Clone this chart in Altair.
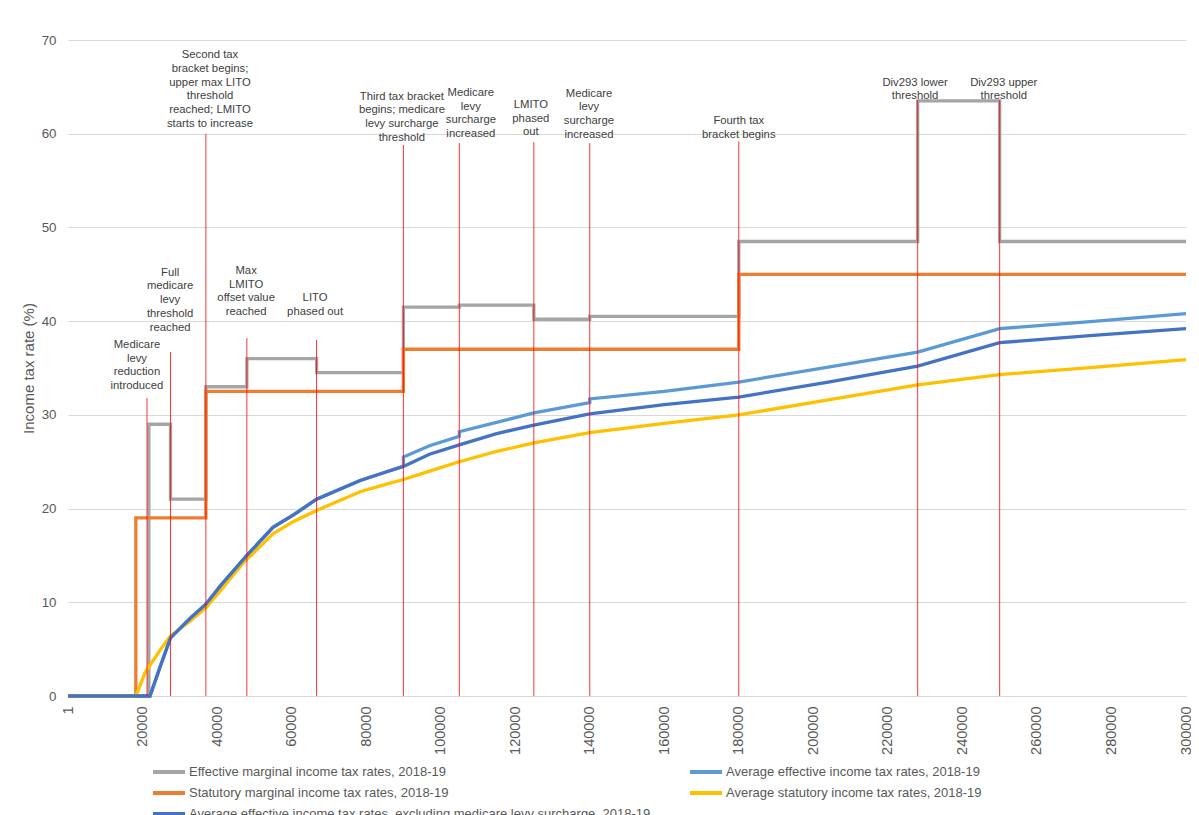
import altair as alt
import pandas as pd

FONT = "Liberation Sans"

# ---------------- data ----------------
x_ticks = [0, 20000, 40000, 60000, 80000, 100000, 120000, 140000, 160000,
           180000, 200000, 220000, 240000, 260000, 280000, 300000]
y_ticks = [0, 10, 20, 30, 40, 50, 60, 70]

EMTR = "Effective marginal income tax rates, 2018-19"
AETR = "Average effective income tax rates, 2018-19"
SMTR = "Statutory marginal income tax rates, 2018-19"
ASTR = "Average statutory income tax rates, 2018-19"
AETRX = "Average effective income tax rates, excluding medicare levy surcharge, 2018-19"

# legend order (filled column by column: left column, then right column)
legend_order = [EMTR, SMTR, AETRX, AETR, ASTR]
legend_colors = ["#A5A5A5", "#ED7D31", "#4472C4", "#5B9BD5", "#FFC000"]

# Effective marginal income tax rates (step)
emtr_income = [0, 21700, 27500, 37000, 48000, 66700, 90000, 105000, 125000,
               140000, 180000, 228000, 250000, 300000]
emtr_rate = [0, 29, 21, 33, 36, 34.5, 41.5, 41.7, 40.2, 40.5, 48.5, 63.5, 48.5, 48.5]

# Statutory marginal income tax rates (step)
smtr_income = [0, 18200, 37000, 90000, 180000, 300000]
smtr_rate = [0, 19, 32.5, 37, 45, 45]

# Average effective income tax rates
aetr_income = [0, 22000, 24700, 27500, 32800, 37000, 41000, 48000, 55000, 60400,
               66700, 78400, 84500, 90000, 90000, 97000, 105000, 105000, 115000,
               125000, 140000, 140000, 160000, 180000, 204000, 228000, 250000,
               276000, 300000]
aetr_rate = [0, 0, 3.1, 6.2, 8.3, 9.8, 11.8, 15.0, 18.0, 19.3,
             21.0, 23.0, 23.8, 24.5, 25.5, 26.7, 27.7, 28.2, 29.2,
             30.2, 31.3, 31.7, 32.5, 33.5, 35.1, 36.7, 39.2,
             40.0, 40.8]

# Average statutory income tax rates
astr_income = [0, 18200, 20700, 24700, 27500, 32800, 37000, 41000, 47000, 55000,
               60400, 66700, 78400, 84500, 90000, 97000, 105000, 115000, 125000,
               140000, 160000, 180000, 204000, 228000, 250000, 276000, 300000]
astr_rate = [0, 0, 2.5, 4.9, 6.4, 8.0, 9.4, 11.3, 14.2, 17.3,
             18.6, 19.8, 21.8, 22.5, 23.1, 24.0, 25.0, 26.1, 27.0,
             28.1, 29.1, 30.0, 31.6, 33.2, 34.3, 35.1, 35.9]

# Average effective income tax rates, excluding medicare levy surcharge
aetrx_income = [0, 22000, 24700, 27500, 32800, 37000, 41000, 48000, 55000, 60400,
                66700, 78400, 84500, 90000, 97000, 105000, 115000, 125000, 140000,
                160000, 180000, 204000, 228000, 250000, 276000, 300000]
aetrx_rate = [0, 0, 3.1, 6.2, 8.3, 9.8, 11.8, 15.0, 18.0, 19.3,
              21.0, 23.0, 23.8, 24.5, 25.8, 26.8, 28.0, 28.9, 30.1,
              31.1, 31.9, 33.5, 35.2, 37.7, 38.5, 39.2]

# Threshold annotations
ann_income = [21200, 27500, 37000, 48000, 66700, 90000, 105000, 125000,
              140000, 180000, 228000, 250000]
ann_top = [31.8, 36.7, 60.0, 38.2, 38.0, 58.8, 59.0, 59.1, 59.0, 59.2, 63.6, 63.6]
ann_label_income = [18500, 27400, 38100, 47800, 66300, 89600, 108100, 124200,
                    139800, 180000, 227300, 251100]
ann_label_top = [38.1, 45.8, 69.0, 46.0, 43.1, 64.6, 65.0, 63.7, 64.9, 62.0, 66.1, 66.1]
ann_text = [
    "Medicare\nlevy\nreduction\nintroduced",
    "Full\nmedicare\nlevy\nthreshold\nreached",
    "Second tax\nbracket begins;\nupper max LITO\nthreshold\nreached; LMITO\nstarts to increase",
    "Max\nLMITO\noffset value\nreached",
    "LITO\nphased out",
    "Third tax bracket\nbegins; medicare\nlevy surcharge\nthreshold",
    "Medicare\nlevy\nsurcharge\nincreased",
    "LMITO\nphased\nout",
    "Medicare\nlevy\nsurcharge\nincreased",
    "Fourth tax\nbracket begins",
    "Div293 lower\nthreshold",
    "Div293 upper\nthreshold",
]

# ---------------- tables ----------------
rows = []
for name, xs, ys in [
    (EMTR, emtr_income, emtr_rate),
    (SMTR, smtr_income, smtr_rate),
    (AETR, aetr_income, aetr_rate),
    (ASTR, astr_income, astr_rate),
    (AETRX, aetrx_income, aetrx_rate),
]:
    for i, (xv, yv) in enumerate(zip(xs, ys)):
        rows.append({"series": name, "income": xv, "rate": yv, "idx": i})
lines_df = pd.DataFrame(rows)

rules_df = pd.DataFrame({"income": ann_income, "base": [0] * len(ann_income), "top": ann_top})
labels_df = pd.DataFrame({"income": ann_label_income, "rate": ann_label_top, "text": ann_text})

# ---------------- scales / axes ----------------
x_scale = alt.Scale(domain=[0, 300000], nice=False, zero=False)
y_scale = alt.Scale(domain=[0, 70], nice=False)

x_axis = alt.Axis(
    values=x_ticks,
    labelExpr="datum.value == 0 ? '1' : format(datum.value, 'd')",
    labelAngle=-90,
    labelFontSize=14.5,
    labelColor="#595959",
    labelPadding=10,
    ticks=False,
    grid=False,
    domain=True,
    domainColor="#D9D9D9",
    title=None,
    labelFont=FONT,
    labelOverlap=False,
)
y_axis = alt.Axis(
    values=y_ticks,
    grid=True,
    gridColor="#D9D9D9",
    gridWidth=1,
    domain=False,
    ticks=False,
    labelFontSize=13.3,
    labelColor="#595959",
    labelPadding=12,
    labelFont=FONT,
    title="Income tax rate (%)",
    titleFont=FONT,
    titleFontSize=15,
    titleFontWeight="normal",
    titleColor="#595959",
    titlePadding=5,
)

color = alt.Color(
    "series:N",
    scale=alt.Scale(domain=legend_order, range=legend_colors),
    legend=alt.Legend(
        title=None,
        orient="none",
        legendX=91,
        legendY=722,
        columns=2,
        symbolType="M-2,0H2",
        symbolSize=256,
        symbolStrokeWidth=4,
        labelFont=FONT,
        labelFontSize=13,
        labelColor="#595959",
        labelLimit=700,
        labelOffset=10,
        rowPadding=3,
        columnPadding=31,
    ),
)


def series_layer(name, interp):
    return (
        alt.Chart(lines_df)
        .transform_filter(alt.datum.series == name)
        .mark_line(interpolate=interp, strokeWidth=3.3)
        .encode(
            x=alt.X("income:Q", scale=x_scale, axis=x_axis),
            y=alt.Y("rate:Q", scale=y_scale, axis=y_axis),
            color=color,
            order=alt.Order("idx:Q"),
        )
    )


# drawing order (bottom to top)
layers = [
    series_layer(EMTR, "step-after"),
    series_layer(SMTR, "step-after"),
    series_layer(AETR, "linear"),
    series_layer(ASTR, "linear"),
    series_layer(AETRX, "linear"),
]

rules = alt.Chart(rules_df).mark_rule(color="#FF0000", strokeWidth=1, opacity=0.8).encode(
    x=alt.X("income:Q", scale=x_scale, axis=x_axis),
    y=alt.Y("base:Q", scale=y_scale, axis=y_axis),
    y2="top:Q",
)

labels = alt.Chart(labels_df).mark_text(
    align="center",
    baseline="top",
    lineBreak="\n",
    font=FONT,
    fontSize=11.3,
    lineHeight=13.7,
    color="#404040",
).encode(
    x=alt.X("income:Q", scale=x_scale, axis=x_axis),
    y=alt.Y("rate:Q", scale=y_scale, axis=y_axis),
    text="text:N",
)

chart = (
    alt.layer(*layers, rules, labels)
    .properties(
        width=1118,
        height=656,
        autosize=alt.AutoSizeParams(type="none"),
        padding={"left": 60, "top": 32, "right": 5, "bottom": 130},
    )
    .configure(font=FONT)
    .configure_view(stroke=None)
)

chart.save("out.html", embed_options={"renderer": "svg", "actions": False})
